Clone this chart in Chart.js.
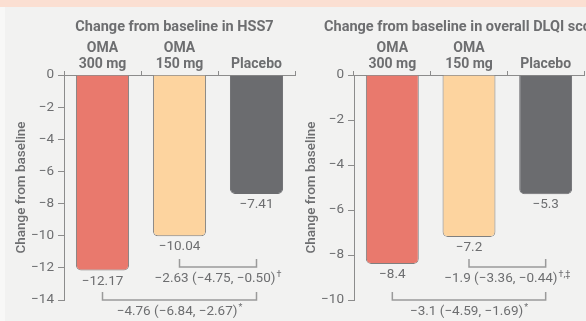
<!DOCTYPE html>
<html>
<head>
<meta charset="utf-8">
<script src="https://cdn.jsdelivr.net/npm/chart.js@4.4.1/dist/chart.umd.min.js"></script>
<style>
    html, body { margin: 0; padding: 0; width: 586px; height: 321px; overflow: hidden; background: #f8f8f7; }
    #band { position: absolute; left: 0; top: 0; width: 586px; height: 7px; background: #fbdfd2; }
    #panel { position: absolute; left: 5px; top: 7px; right: 0; bottom: 0; background: #f2f2f1; }
    canvas { position: absolute; top: 0; }
</style>
</head>
<body>
<div id="band"></div>
<div id="panel"></div>
<canvas id="hssChart" width="300" height="321" style="left:0"></canvas>
<canvas id="dlqiChart" width="296" height="321" style="left:290px"></canvas>
<script>
// treatment groups (x axis)
const groups = [['OMA', '300 mg'], ['OMA', '150 mg'], 'Placebo'];

// change from baseline
const hss7Change = [-12.17, -10.04, -7.41];
const dlqiChange = [-8.4, -7.2, -5.3];

// y axis tick labels
const hss7Ticks = [0, -2, -4, -6, -8, -10, -12, -14];
const dlqiTicks = [0, -2, -4, -6, -8, -10];

// treatment differences (group index from -> to), 95% CI and footnote mark
const hss7Diffs = [
    { from: 1, to: 2, text: '−2.63 (−4.75, −0.50)', mark: '†' },
    { from: 0, to: 2, text: '−4.76 (−6.84, −2.67)', mark: '*' }
];
const dlqiDiffs = [
    { from: 1, to: 2, text: '−1.9 (−3.36, −0.44)', mark: '†,‡' },
    { from: 0, to: 2, text: '−3.1 (−4.59, −1.69)', mark: '*' }
];

const barColors = ['#e9796d', '#fdd49f', '#6b6c6f'];
const barBorders = ['#7f7f7f', '#7f7f7f', '#6b6c6f'];
const textColor = '#6d6e70';
const lineColor = '#8c8c8c';
const fontFamily = 'Roboto, "Open Sans", sans-serif';

function minus(v) {
    return String(v).replace('-', '−');
}

// title, bar values and difference brackets
const annotations = {
    id: 'annotations',
    afterDraw(chart, args, opts) {
        const ctx = chart.ctx;
        const area = chart.chartArea;
        const meta = chart.getDatasetMeta(0);
        const values = chart.data.datasets[0].data;
        ctx.save();
        ctx.fillStyle = textColor;

        // chart title
        ctx.font = 'bold 14.5px ' + fontFamily;
        ctx.textAlign = 'center';
        ctx.textBaseline = 'middle';
        ctx.fillText(opts.title, (area.left + area.right) / 2 - 5, 27);

        // values under bars
        ctx.font = '13.5px ' + fontFamily;
        ctx.textBaseline = 'top';
        meta.data.forEach(function(bar, i) {
            ctx.fillText(minus(values[i]), bar.x, bar.y + 4);
        });

        // brackets
        ctx.strokeStyle = '#9a9a9a';
        ctx.lineWidth = 1.5;
        opts.diffs.forEach(function(d, k) {
            const x1 = meta.data[d.from].x;
            const x2 = meta.data[d.to].x;
            const y = k === 0 ? area.bottom - 33 : area.bottom;
            ctx.beginPath();
            ctx.moveTo(x1, y - 8);
            ctx.lineTo(x1, y);
            ctx.lineTo(x2, y);
            ctx.lineTo(x2, y - 8);
            ctx.stroke();

            ctx.font = '13.5px ' + fontFamily;
            const w1 = ctx.measureText(d.text).width;
            ctx.font = '9px ' + fontFamily;
            const w2 = ctx.measureText(d.mark).width + 1;
            const start = (x1 + x2) / 2 - (w1 + w2) / 2;
            ctx.textAlign = 'left';
            ctx.textBaseline = 'middle';
            ctx.font = '13.5px ' + fontFamily;
            ctx.fillText(d.text, start, y + 12);
            ctx.font = '9px ' + fontFamily;
            ctx.fillText(d.mark, start + w1 + 1, y + 8);
        });
        ctx.restore();
    }
};

function makeChart(id, title, values, tickValues, diffs, padRight) {
    const ctx = document.getElementById(id).getContext('2d');
    return new Chart(ctx, {
        type: 'bar',
        data: {
            labels: groups,
            datasets: [{
                data: values,
                backgroundColor: barColors,
                borderColor: barBorders,
                borderWidth: 1,
                borderSkipped: 'start',
                borderRadius: 5,
                categoryPercentage: 1,
                barPercentage: 0.69
            }]
        },
        options: {
            responsive: false,
            animation: false,
            layout: { padding: { left: 0, right: padRight, top: 0, bottom: 21 } },
            plugins: {
                legend: { display: false },
                tooltip: { enabled: false },
                annotations: { title: title, diffs: diffs }
            },
            scales: {
                x: {
                    position: 'top',
                    grid: { offset: true, drawOnChartArea: false, tickLength: 4, color: lineColor },
                    border: { color: lineColor },
                    ticks: {
                        color: textColor,
                        font: { family: fontFamily, size: 14, weight: 'bold', lineHeight: 1.15 },
                        padding: -2,
                        maxRotation: 0,
                        autoSkip: false
                    },
                    afterFit: function(scale) { scale.height = 75; }
                },
                y: {
                    min: Math.min(...tickValues),
                    max: Math.max(...tickValues),
                    afterBuildTicks: function(scale) {
                        scale.ticks = tickValues.map(v => ({ value: v }));
                    },
                    grid: { drawOnChartArea: false, tickLength: 6, color: lineColor },
                    border: { color: lineColor },
                    ticks: {
                        color: textColor,
                        font: { family: fontFamily, size: 13.5 },
                        padding: 4,
                        callback: function(value) { return minus(value); }
                    },
                    title: {
                        display: true,
                        text: 'Change from baseline',
                        color: textColor,
                        font: { family: fontFamily, size: 13.5, weight: '500' },
                        padding: { top: 14, bottom: 0 }
                    },
                    afterFit: function(scale) { scale.width = 64; }
                }
            }
        },
        plugins: [annotations]
    });
}

makeChart('hssChart', 'Change from baseline in HSS7', hss7Change, hss7Ticks, hss7Diffs, 5);
makeChart('dlqiChart', 'Change from baseline in overall DLQI score', dlqiChange, dlqiTicks, dlqiDiffs, 2);
</script>
</body>
</html>
